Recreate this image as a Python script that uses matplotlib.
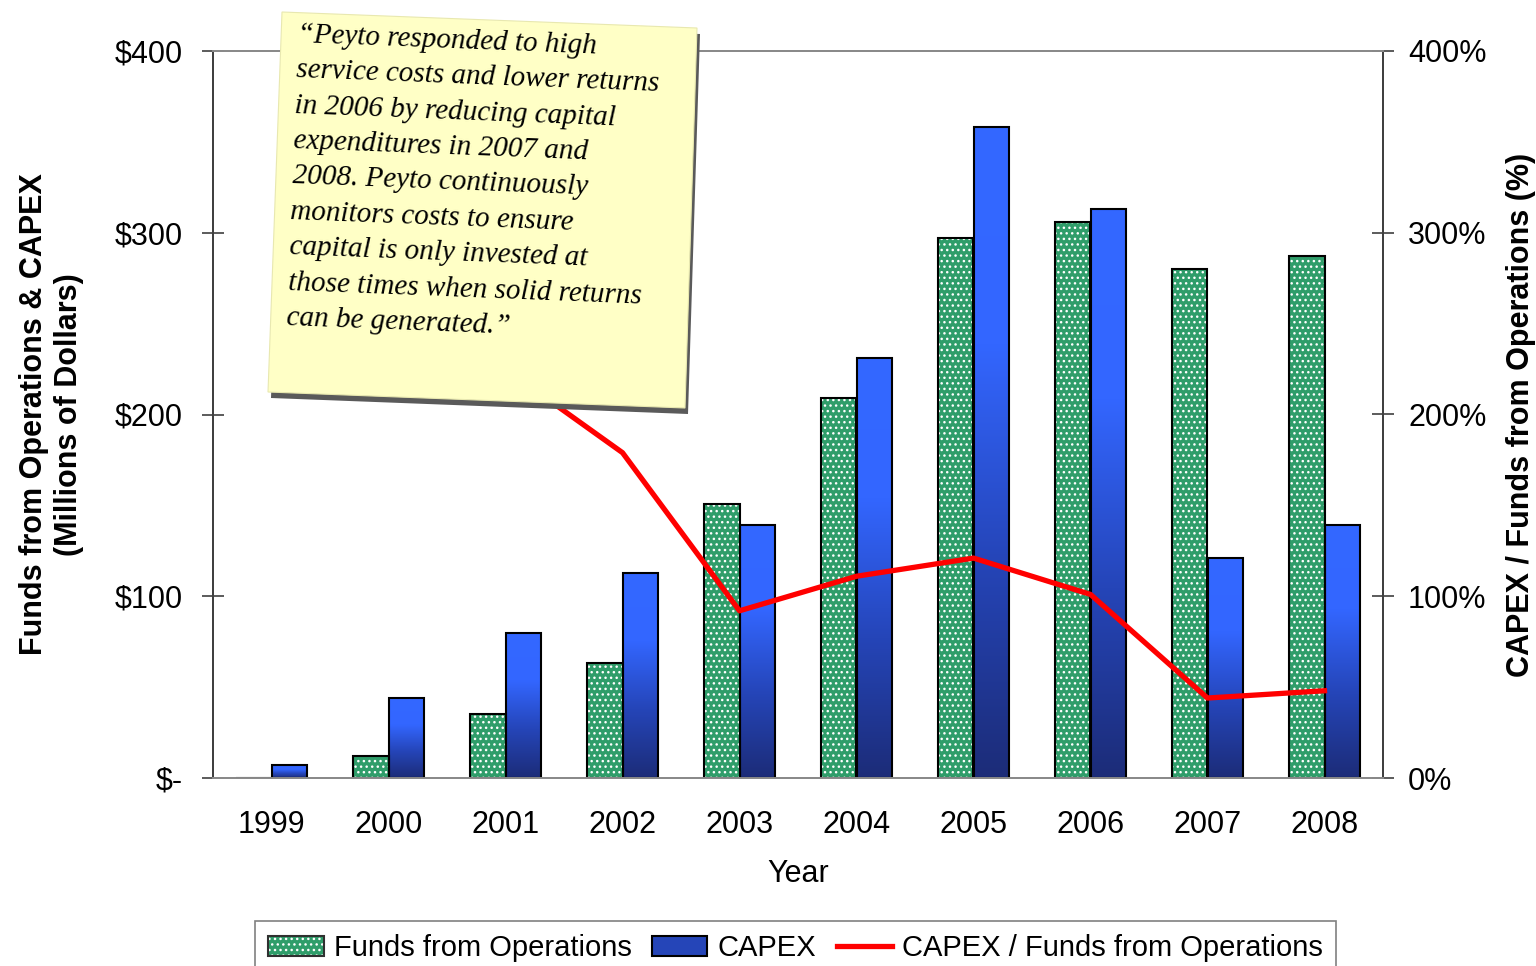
import numpy as np
import matplotlib
matplotlib.use("Agg")
import matplotlib.pyplot as plt
from matplotlib.patches import Polygon, Patch
from matplotlib.lines import Line2D
from matplotlib.colors import LinearSegmentedColormap

years = ['1999', '2000', '2001', '2002', '2003', '2004', '2005', '2006', '2007', '2008']
ffo = [0, 12, 35, 63, 151, 209, 297, 306, 280, 287]          # Funds from Operations, $M
capex = [7, 44, 80, 113, 139, 231, 358, 313, 121, 139]       # CAPEX, $M
ratio = [np.nan, 360, 225, 179, 92, 111, 121, 101, 44, 48]   # CAPEX / FFO, %

left_ticks = [0, 100, 200, 300, 400]
left_labels = ['$-', '$100', '$200', '$300', '$400']
right_ticks = [0, 100, 200, 300, 400]
right_labels = ['0%', '100%', '200%', '300%', '400%']

note = ("\u201cPeyto responded to high\n"
        "service costs and lower returns\n"
        "in 2006 by reducing capital\n"
        "expenditures in 2007 and\n"
        "2008. Peyto continuously\n"
        "monitors costs to ensure\n"
        "capital is only invested at\n"
        "those times when solid returns\n"
        "can be generated.\u201d")

plt.rcParams['font.family'] = ['Liberation Sans', 'DejaVu Sans']
plt.rcParams['hatch.linewidth'] = 1.0

W, H = 1536, 966
fig = plt.figure(figsize=(W / 100, H / 100), dpi=100)
ax = fig.add_axes([213 / W, 1 - 778 / H, (1383 - 213) / W, (778 - 51) / H])
ax2 = ax.twinx()

x = np.arange(len(years))
bw = 0.3
green = '#2f9d6a'
blue_grad = LinearSegmentedColormap.from_list('capex', ['#1c2c78', '#2545b8', '#3366ff', '#3468ff'])

# Funds from operations: green with white dotted pattern
ax.bar(x - bw / 2, ffo, bw, color=green, edgecolor='white', hatch='...', linewidth=0, zorder=2)
ax.bar(x - bw / 2, ffo, bw, facecolor='none', edgecolor='black', linewidth=1.5, zorder=3)

# CAPEX: vertical gradient per bar
grad = np.linspace(0, 1, 256).reshape(-1, 1)
for xi, h in zip(x, capex):
    ax.imshow(grad, extent=[xi, xi + bw, 0, h], origin='lower', aspect='auto',
              cmap=blue_grad, zorder=2)
ax.bar(x + bw / 2, capex, bw, facecolor='none', edgecolor='black', linewidth=1.5, zorder=3)

ax.set_xlim(-0.5, len(years) - 0.5)
ax.set_ylim(0, 400)
ax.set_xticks(x)
ax.set_xticklabels(years)
ax.set_yticks(left_ticks)
ax.set_yticklabels(left_labels)
ax.tick_params(axis='x', length=0, pad=23, labelsize=22)
ax.tick_params(axis='y', direction='inout', length=16, width=1.2, color='#404040', pad=14, labelsize=22)
ax.set_xlabel('Year', fontsize=22, labelpad=14)
ax.set_ylabel('Funds from Operations & CAPEX\n(Millions of Dollars)', fontsize=22,
              fontweight='bold', labelpad=22)

ax2.plot(x, ratio, color='#ff0000', linewidth=3.8, zorder=4)
ax2.set_ylim(0, 400)
ax2.set_yticks(right_ticks)
ax2.set_yticklabels(right_labels)
ax2.tick_params(axis='y', direction='inout', length=16, width=1.2, color='#404040', pad=10, labelsize=22)
ax2.set_ylabel('CAPEX / Funds from Operations (%)', fontsize=22, fontweight='bold', labelpad=14)

for a in (ax, ax2):
    a.spines['left'].set_color('#404040')
    a.spines['right'].set_color('#404040')
    a.spines['top'].set_color('#8a8a8a')
    a.spines['bottom'].set_color('#8a8a8a')
    for s in a.spines.values():
        s.set_linewidth(1.4)

# sticky note (pixel corners, y from top)
def to_fig(pts):
    return [(px / W, 1 - py / H) for px, py in pts]

corners = [(282, 12), (697, 28), (685, 408), (268, 392)]
shadow = [(px + 3, py + 6) for px, py in corners]
fig.patches.append(Polygon(to_fig(shadow), closed=True, transform=fig.transFigure,
                           facecolor='#5a5a5a', edgecolor='none', zorder=5))
fig.patches.append(Polygon(to_fig(corners), closed=True, transform=fig.transFigure,
                           facecolor='#ffffc6', edgecolor='#e8e8b0', linewidth=0.8, zorder=6))
fig.text(298 / W, 1 - 22 / H, note, transform=fig.transFigure, ha='left', va='top',
         rotation=-2.2, rotation_mode='anchor', fontsize=21, linespacing=1.47,
         family=['Liberation Serif', 'DejaVu Serif'], style='italic', zorder=7)

handles = [
    (Patch(facecolor=green, edgecolor='white', hatch='...', linewidth=0),
     Patch(facecolor='none', edgecolor='#303030', linewidth=1.5)),
    Patch(facecolor='#2545b8', edgecolor='black', linewidth=1.5),
    Line2D([0], [0], color='#ff0000', linewidth=3.8),
]
leg = fig.legend(handles, ['Funds from Operations', 'CAPEX', 'CAPEX / Funds from Operations'],
                 loc='upper center', bbox_to_anchor=(0.518, 1 - 921 / H), ncol=3,
                 borderaxespad=0, fontsize=21, frameon=True, fancybox=False, edgecolor='#606060',
                 handlelength=1.9, handletextpad=0.35, columnspacing=0.7, borderpad=0.45)
leg.get_frame().set_linewidth(1.2)

fig.savefig('out.png', dpi=100)
